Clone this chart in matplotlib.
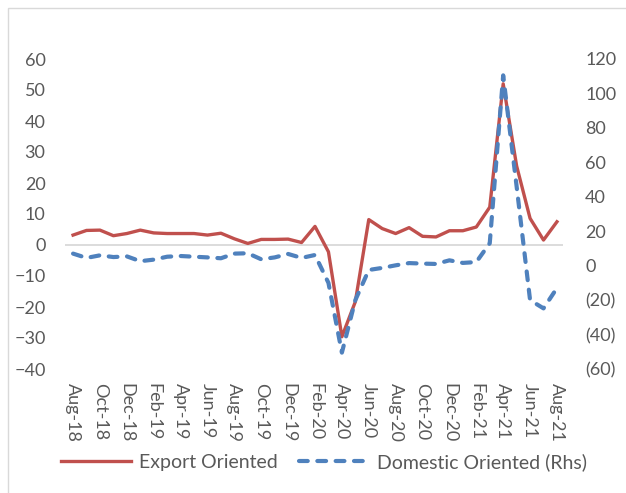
import matplotlib
matplotlib.use("Agg")
import matplotlib.pyplot as plt
from matplotlib.patches import Rectangle

plt.rcParams['font.family'] = ['Lato', 'DejaVu Sans']

# monthly data Aug-18 .. Aug-21
months = ["Aug-18", "Sep-18", "Oct-18", "Nov-18", "Dec-18", "Jan-19", "Feb-19", "Mar-19",
          "Apr-19", "May-19", "Jun-19", "Jul-19", "Aug-19", "Sep-19", "Oct-19", "Nov-19",
          "Dec-19", "Jan-20", "Feb-20", "Mar-20", "Apr-20", "May-20", "Jun-20", "Jul-20",
          "Aug-20", "Sep-20", "Oct-20", "Nov-20", "Dec-20", "Jan-21", "Feb-21", "Mar-21",
          "Apr-21", "May-21", "Jun-21", "Jul-21", "Aug-21"]
export_oriented = [3.2, 4.7, 4.8, 3.0, 3.7, 4.8, 3.9, 3.7, 3.7, 3.7, 3.2, 3.8, 2.0, 0.5,
                   1.8, 1.8, 1.9, 0.8, 6.0, -2.2, -29.6, -18.3, 8.2, 5.3, 3.7, 5.6, 2.8,
                   2.6, 4.6, 4.6, 5.8, 12.2, 52.0, 25.5, 8.6, 1.6, 7.5]
domestic_oriented = [7.0, 4.5, 6.0, 5.0, 5.4, 2.6, 3.5, 5.2, 5.6, 5.2, 4.8, 4.3, 7.0, 7.2,
                     3.7, 4.8, 6.8, 4.5, 6.2, -10.0, -50.5, -20.0, -2.5, -1.3, 0.2, 1.5,
                     1.2, 1.0, 3.1, 1.6, 2.1, 13.0, 110.5, 46.0, -20.0, -24.8, -13.0]
left_ticks = [-40, -30, -20, -10, 0, 10, 20, 30, 40, 50, 60]
right_ticks = [-60, -40, -20, 0, 20, 40, 60, 80, 100, 120]

red = "#C0504D"
blue = "#4F81BD"
txt = "#595959"

fig = plt.figure(figsize=(6.26, 4.93), dpi=100)
fig.patches.append(Rectangle((8 / 626, -0.1), 1.2, 1 - 8 / 493 + 0.1, transform=fig.transFigure,
                             fill=False, edgecolor="#D9D9D9", linewidth=1.0))

ax = fig.add_axes([65 / 626, 1 - 369 / 493, (563 - 65) / 626, (369 - 59) / 493])
ax2 = ax.twinx()

x = list(range(len(months)))
ax.axhline(0, color="#D9D9D9", linewidth=1.3, zorder=1)
ax.plot(x, export_oriented, color=red, linewidth=2.4, label="Export Oriented", zorder=3)
l2, = ax2.plot(x, domestic_oriented, color=blue, linewidth=3.0, label="Domestic Oriented (Rhs)",
               dash_capstyle="round", zorder=3)
l2.set_dashes((2.1, 2.3))

ax.set_ylim(-40, 60)
ax2.set_ylim(-60, 120)
ax.set_xlim(-0.6, 36.45)
ax.set_yticks(left_ticks)
ax2.set_yticks(right_ticks)
ax2.set_yticklabels([("(%d)" % abs(v)) if v < 0 else str(v) for v in right_ticks])
ax.set_xticks(x[::2])
ax.set_xticklabels(months[::2], rotation=-90, va="top", ha="center")

for a in (ax, ax2):
    for s in a.spines.values():
        s.set_visible(False)
    a.tick_params(length=0, colors=txt, labelsize=13)
ax.tick_params(axis="y", pad=14)
ax2.tick_params(axis="y", pad=16)
ax.tick_params(axis="x", pad=10)

h1, lb1 = ax.get_legend_handles_labels()
h2, lb2 = ax2.get_legend_handles_labels()
leg = fig.legend(h1 + h2, lb1 + lb2, loc="center", bbox_to_anchor=(324 / 626, 1 - 462 / 493),
                 ncol=2, frameon=False, fontsize=14, handlelength=3.6, handletextpad=0.4,
                 columnspacing=1.1)
for t in leg.get_texts():
    t.set_color(txt)

fig.savefig("out.png", dpi=100)
